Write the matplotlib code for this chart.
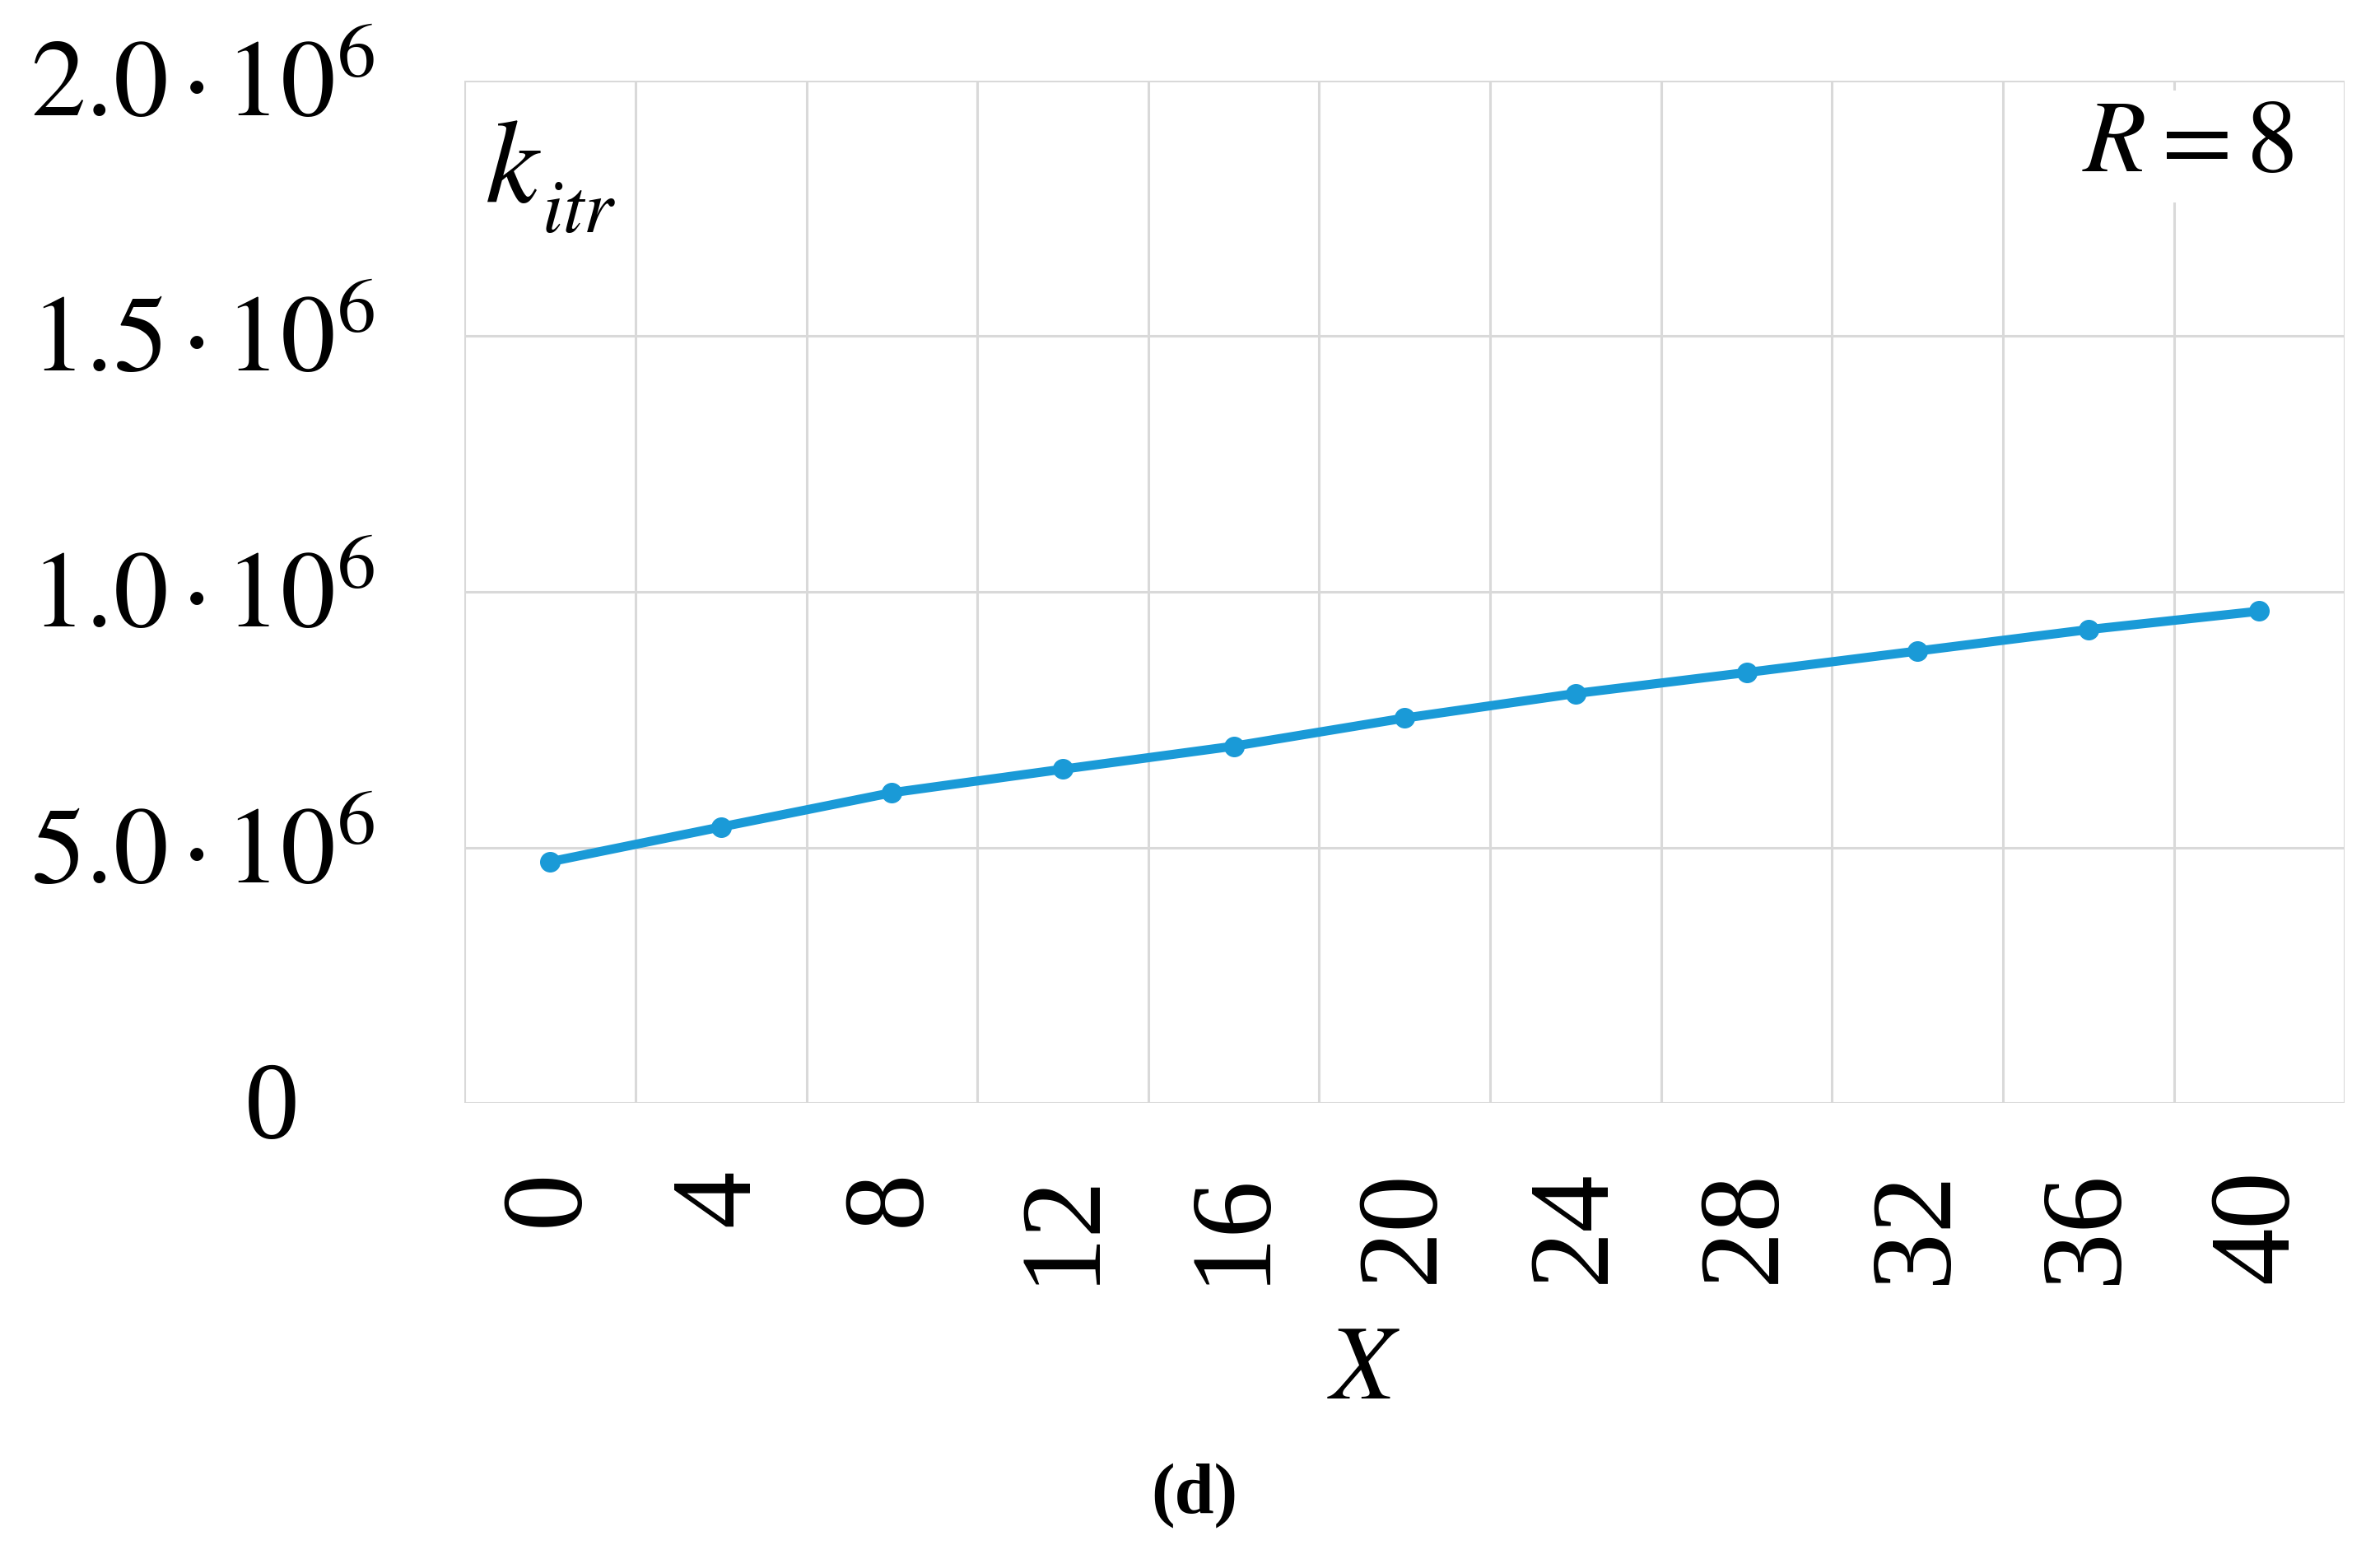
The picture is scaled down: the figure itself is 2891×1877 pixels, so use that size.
import matplotlib
matplotlib.use("Agg")
import matplotlib.pyplot as plt
import matplotlib.transforms as mtransforms

plt.rcParams['mathtext.fontset'] = 'stix'
plt.rcParams['font.family'] = ['Liberation Serif', 'DejaVu Serif']

# data
x_labels = ['0', '4', '8', '12', '16', '20', '24', '28', '32', '36', '40']
k_itr = [0.472e6, 0.540e6, 0.607e6, 0.653e6, 0.698e6, 0.753e6,
         0.801e6, 0.842e6, 0.884e6, 0.926e6, 0.962e6]
y_ticks = [0, 0.5e6, 1.0e6, 1.5e6, 2.0e6]
y_tick_labels = ['0', r'$5.0\,{\cdot}\,10^{6}$', r'$1.0\,{\cdot}\,10^{6}$',
                 r'$1.5\,{\cdot}\,10^{6}$', r'$2.0\,{\cdot}\,10^{6}$']

line_color = '#1a9ad7'
grid_color = '#d9d9d9'

fig = plt.figure(figsize=(28.91, 18.77), dpi=100)
ax = fig.add_axes([0.1952, 0.286, 0.790, 0.662])

pos = list(range(len(x_labels)))
ax.plot(pos, k_itr, color=line_color, lw=8, marker='o', markersize=17,
        solid_capstyle='round', zorder=3)

ax.set_xlim(-0.5, len(x_labels) - 0.5)
ax.set_ylim(0, 2.0e6)

# category boundaries as vertical grid, value ticks as horizontal grid
for b in range(len(x_labels) + 1):
    ax.axvline(b - 0.5, color=grid_color, lw=2.2, zorder=1)
for yv in y_ticks:
    ax.axhline(yv, color=grid_color, lw=2.2, zorder=1)
for s in ax.spines.values():
    s.set_visible(False)

ax.set_xticks(pos)
ax.set_xticklabels(x_labels, rotation=90, fontsize=100, va='top', ha='center')
ax.tick_params(axis='x', length=0, pad=58)
ax.set_yticks([])

# y tick labels drawn by hand (the "0" sits further left in the original)
off = mtransforms.ScaledTranslation(0, -0.43, fig.dpi_scale_trans)
for yv, lab in zip(y_ticks, y_tick_labels):
    xa = -0.048 if lab != '0' else -0.088
    ax.text(xa, yv, lab, transform=ax.get_yaxis_transform() + off,
            ha='right', va='baseline', fontsize=96)

ax.text(0.011, 0.881, r'$k$', transform=ax.transAxes, fontsize=104,
        ha='left', va='baseline')
ax.text(0.041, 0.852, r'$itr$', transform=ax.transAxes, fontsize=66,
        ha='left', va='baseline')
ax.text(0.973, 0.911, r'$R=8$', transform=ax.transAxes, fontsize=90,
        ha='right', va='baseline',
        bbox=dict(facecolor='white', edgecolor='none', pad=8))

fig.text(0.573, 0.111, r'$X$', fontsize=92, ha='center', va='center')
fig.text(0.502, 0.032, '(d)', fontsize=62, fontweight='bold',
         ha='center', va='center')

fig.savefig('out.png', dpi=100, facecolor='white')
